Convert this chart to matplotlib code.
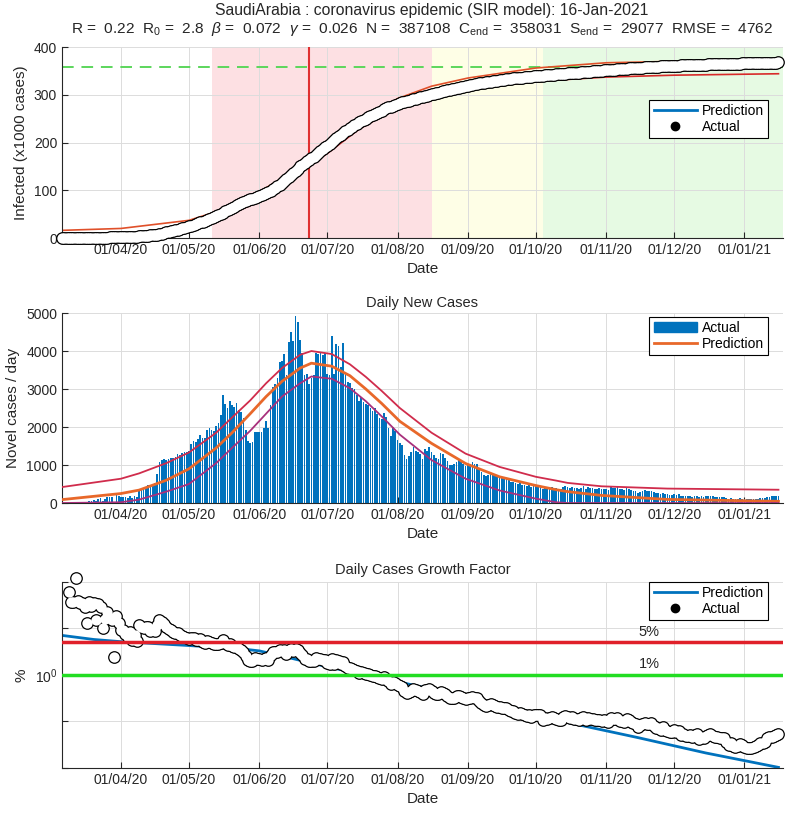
import numpy as np
import pandas as pd
import matplotlib
matplotlib.use('Agg')
import matplotlib.pyplot as plt
import matplotlib.dates as mdates
from matplotlib.lines import Line2D
from matplotlib.patches import Patch

plt.rcParams['font.family'] = ['Liberation Sans', 'DejaVu Sans']
plt.rcParams['font.size'] = 10
plt.rcParams['mathtext.fontset'] = 'custom'
plt.rcParams['mathtext.rm'] = 'Liberation Sans'
plt.rcParams['mathtext.it'] = 'Liberation Sans:italic'

# ---------------- datos ----------------
start = '2020-03-06'
n0 = 5  # casos antes del inicio

new_mar = [0, 0, 0, 3, 3, 4, 18, 13, 16, 22, 24, 14, 45, 50, 76, 44, 111, 130, 58, 100,
           165, 150, 160, 30, 230, 190]
new_apr = [157, 165, 154, 140, 191, 138, 190, 150, 355, 364, 382, 429, 472, 435, 493,
           518, 762, 1088, 1122, 1147, 1141, 1158, 1172, 1197, 1223, 1289, 1266, 1325,
           1351, 1344]
new_may = [1362, 1552, 1645, 1595, 1687, 1793, 1701, 1701, 1912, 1966, 1911, 1905, 2039,
           2100, 2307, 2840, 2593, 2509, 2691, 2591, 2532, 2642, 2442, 2399, 2235, 1931,
           1644, 1581, 1618, 1877, 1881]
new_jun = [1880, 1870, 1975, 2170, 1975, 2590, 3045, 3120, 3290, 3720, 3730, 3920, 3370,
           4230, 4510, 4270, 4920, 4760, 4300, 3940, 3380, 3390, 3140, 3290, 3370, 3940,
           3930, 3940, 3900, 3950]
new_jul = [3400, 3380, 4390, 3400, 4190, 4130, 3580, 4210, 3390, 3180, 3160, 3040, 2990,
           2850, 2690, 2780, 2670, 2610, 2570, 2500, 2430, 2500, 2330, 2240, 2200, 2380,
           2260, 1970, 1760, 1990, 1900]
new_aug = [1660, 1590, 1530, 1260, 1160, 1240, 1330, 1470, 1370, 1330, 1290, 1160, 1420,
           1380, 1470, 1330, 1260, 1190, 1160, 1310, 1280, 1190, 1100, 1000, 990, 1020,
           1080, 1130, 1080, 1030, 970]
new_sep = [1030, 1020, 1070, 1030, 1040, 870, 810, 750, 710, 740, 760, 740, 700, 680, 660,
           650, 640, 640, 600, 560, 560, 520, 490, 520, 480, 470, 450, 470, 430, 460]
new_oct = [462, 468, 459, 374, 404, 388, 399, 419, 404, 383, 373, 367, 425, 442, 421, 406,
           423, 399, 391, 381, 406, 437, 378, 411, 400, 395, 373, 380, 383, 362, 375]
new_nov = [360, 340, 417, 406, 399, 419, 359, 364, 337, 404, 381, 348, 328, 311, 274, 299,
           311, 333, 319, 322, 327, 284, 265, 259, 236, 273, 240, 227, 212, 216]
new_dec = [232, 214, 228, 187, 190, 180, 172, 181, 169, 188, 192, 156, 172, 164, 178, 183,
           191, 175, 166, 165, 162, 163, 157, 130, 112, 128, 108, 103, 108, 122, 113]
new_jan = [105, 100, 98, 96, 104, 108, 114, 124, 128, 132, 158, 170, 174, 176, 188, 196]

daily = np.array(new_mar + new_apr + new_may + new_jun + new_jul + new_aug + new_sep +
                 new_oct + new_nov + new_dec + new_jan, dtype=float)
dates = pd.date_range(start, periods=len(daily), freq='D')
cum = n0 + np.cumsum(daily)
prev = np.concatenate([[n0], cum[:-1]])
growth = daily / prev * 100
growth[growth <= 0] = np.nan

# prediccion acumulada (x1000)
top_dates = pd.to_datetime(['2020-03-06', '2020-04-01', '2020-05-01', '2020-05-11',
                            '2020-05-20', '2020-06-01', '2020-06-10', '2020-06-15',
                            '2020-06-23', '2020-07-01', '2020-07-15', '2020-08-01',
                            '2020-08-16', '2020-09-01', '2020-10-01', '2020-11-01',
                            '2020-12-01', '2021-01-16'])
top_upper = [16, 20, 37, 52, 62, 97, 122, 142, 167, 192, 240, 292, 318, 335, 356, 367, 370, 374]
top_lower = [0, 1, 16, 32, 52, 76, 100, 122, 153, 177, 228, 273, 293, 311, 328, 337, 341, 344]

# prediccion casos diarios
mid_dates = pd.to_datetime(['2020-03-06', '2020-04-01', '2020-04-09', '2020-04-21',
                            '2020-05-01', '2020-05-13', '2020-05-20', '2020-05-28',
                            '2020-06-04', '2020-06-11', '2020-06-19', '2020-06-24',
                            '2020-07-03', '2020-07-11', '2020-07-18', '2020-07-25',
                            '2020-08-02', '2020-08-16', '2020-08-31', '2020-09-15',
                            '2020-10-01', '2020-10-10', '2020-10-15', '2020-10-30',
                            '2020-11-28', '2021-01-16'])
mid_center = [90, 250, 340, 600, 900, 1450, 1850, 2350, 2800, 3200, 3550, 3680, 3600, 3350,
              3000, 2620, 2150, 1570, 1040, 690, 460, 350, 300, 200, 95, 45]
mid_upper = [420, 640, 780, 1050, 1330, 1850, 2250, 2700, 3150, 3550, 3900, 4000, 3920, 3650,
             3320, 2950, 2500, 1850, 1300, 950, 690, 590, 530, 440, 380, 350]
mid_lower = [0, 20, 90, 300, 500, 1050, 1450, 1900, 2350, 2800, 3150, 3330, 3270, 3020,
             2680, 2280, 1800, 1130, 640, 330, 115, 20, 0, 0, 0, 0]

# prediccion factor de crecimiento (%)
gr_dates = pd.to_datetime(['2020-03-06', '2020-03-20', '2020-04-01', '2020-05-01',
                           '2020-05-25', '2020-06-01', '2020-06-15', '2020-07-01',
                           '2020-08-01', '2020-09-01', '2020-10-01', '2020-10-15',
                           '2020-11-15', '2020-12-15', '2021-01-16'])
gr_pred = [7.1, 5.8, 5.2, 4.3, 3.6, 3.3, 2.3, 1.5, 0.72, 0.33, 0.15, 0.095, 0.045, 0.021, 0.0103]

fase_rojo = ('2020-05-11', '2020-08-16')
fase_amarillo = ('2020-08-16', '2020-10-04')
fase_verde = ('2020-10-04', '2021-01-18')
dia_pico = '2020-06-23'
C_end = 358.031

xlim = (pd.Timestamp('2020-03-06'), pd.Timestamp('2021-01-18'))
gris = (0.15, 0.15, 0.15)


def estilo(ax):
    for s in ['top', 'right']:
        ax.spines[s].set_visible(False)
    for s in ['left', 'bottom']:
        ax.spines[s].set_color(gris)
        ax.spines[s].set_linewidth(0.8)
    ax.tick_params(direction='in', length=4, colors=gris, labelsize=10)
    ax.grid(True, color='#dcdcdc', linewidth=0.7)
    ax.set_axisbelow(True)
    ax.set_xlim(xlim)
    ax.xaxis.set_major_locator(mdates.MonthLocator(bymonth=[1, 4, 5, 6, 7, 8, 9, 10, 11, 12]))
    ax.xaxis.set_major_formatter(mdates.DateFormatter('%d/%m/%y'))
    ax.set_xlabel('Date', color=gris, fontsize=11)


def tubo(ax, x, y, z=3):
    # circulos blancos con borde negro (estilo matlab, se funden en un tubo)
    ax.plot(x, y, 'o', ms=9.2, mfc='k', mec='none', zorder=z, clip_on=False)
    ax.plot(x, y, 'o', ms=7.4, mfc='white', mec='none', zorder=z + 0.01, clip_on=False)


def leyenda(ax, handles, labels, anchor):
    leg = ax.legend(handles, labels, loc='upper right', bbox_to_anchor=anchor,
                    borderaxespad=0, fancybox=False, framealpha=1, edgecolor='k',
                    fontsize=10, handlelength=3.1, handletextpad=0.35, borderpad=0.3,
                    labelspacing=0.15)
    leg.get_frame().set_linewidth(0.8)
    leg.set_zorder(10)
    return leg


fig = plt.figure(figsize=(8, 8.19), dpi=100)
ax1 = fig.add_axes([0.0775, 0.7094, 0.90125, 0.2332])
ax2 = fig.add_axes([0.0775, 0.3858, 0.90125, 0.2320])
ax3 = fig.add_axes([0.0775, 0.0623, 0.90125, 0.2271])

# ---------------- acumulados ----------------
estilo(ax1)
ax1.axvspan(pd.Timestamp(fase_rojo[0]), pd.Timestamp(fase_rojo[1]), color='#fde0e3', zorder=0.2, lw=0)
ax1.axvspan(pd.Timestamp(fase_amarillo[0]), pd.Timestamp(fase_amarillo[1]), color='#fefee6', zorder=0.2, lw=0)
ax1.axvspan(pd.Timestamp(fase_verde[0]), pd.Timestamp(fase_verde[1]), color='#e6fae3', zorder=0.2, lw=0)
ax1.axhline(C_end, color='#5cd65c', ls=(0, (6, 4)), lw=1.4, zorder=1)
ax1.axvline(pd.Timestamp(dia_pico), color='#e03030', lw=1.5, zorder=1)
ax1.plot(top_dates, top_upper, color='#e0502a', lw=1.2, zorder=2)
ax1.plot(top_dates, top_lower, color='#d82a2a', lw=1.2, zorder=2)
tubo(ax1, dates, cum / 1000)
ax1.set_ylim(0, 400)
ax1.set_yticks([0, 100, 200, 300, 400])
ax1.set_ylabel('Infected (x1000 cases)', color=gris, fontsize=11)
h1 = [Line2D([], [], color='#0072BD', lw=2), Line2D([], [], ls='none', marker='o', color='k', ms=6)]
leyenda(ax1, h1, ['Prediction', 'Actual'], (0.979, 0.7225))

fig.text(0.539, 1 - 15 / 819, 'SaudiArabia : coronavirus epidemic (SIR model): 16-Jan-2021',
         ha='center', va='baseline', fontsize=11.3, color=gris)
fig.text(0.527, 1 - 33 / 819,
         r'R =  0.22  R$_0$ =  2.8  $\beta$ =  0.072  $\gamma$ =  0.026  N =  387108  '
         r'C$_{\mathrm{end}}$ =  358031  S$_{\mathrm{end}}$ =  29077  RMSE =  4762',
         ha='center', va='baseline', fontsize=11.1, color=gris)

# ---------------- casos diarios ----------------
estilo(ax2)
ax2.bar(dates, daily, width=0.75, color='#0072BD', lw=0, zorder=2)
ax2.plot(mid_dates, mid_upper, color='#d02c4c', lw=1.3, zorder=3)
ax2.plot(mid_dates, mid_center, color='#e8682a', lw=2, zorder=3)
ax2.plot(mid_dates, mid_lower, color='#a8307c', lw=1.3, zorder=3)
ax2.set_ylim(0, 5000)
ax2.set_yticks([0, 1000, 2000, 3000, 4000, 5000])
ax2.set_ylabel('Novel cases / day', color=gris, fontsize=11)
ax2.set_title('Daily New Cases', fontsize=10.5, color=gris, pad=4)
h2 = [Patch(color='#0072BD'), Line2D([], [], color='#e8682a', lw=2)]
leyenda(ax2, h2, ['Actual', 'Prediction'], (0.979, 0.979))

# ---------------- factor de crecimiento ----------------
estilo(ax3)
ax3.set_yscale('log')
ax3.set_ylim(1e-2, 1e2)
ax3.set_yticks([1e-2, 1e-1, 1, 10, 100])
ax3.set_yticklabels(['', '', r'$10^0$', '', ''])
ax3.yaxis.set_minor_locator(matplotlib.ticker.NullLocator())
ax3.plot(gr_dates, gr_pred, color='#0072BD', lw=2, zorder=2)
tubo(ax3, dates, growth)
ax3.axhline(5, color='#e0202a', lw=2.5, zorder=4)
ax3.axhline(1, color='#22dd22', lw=2.5, zorder=4)
ax3.text(pd.Timestamp('2020-11-20'), 5.8, '5%', ha='center', va='bottom', fontsize=10.5, color=gris)
ax3.text(pd.Timestamp('2020-11-20'), 1.23, '1%', ha='center', va='bottom', fontsize=10.5, color=gris)
ax3.set_ylabel('%', color=gris, fontsize=11)
ax3.set_title('Daily Cases Growth Factor', fontsize=10.5, color=gris, pad=6)
h3 = [Line2D([], [], color='#0072BD', lw=2), Line2D([], [], ls='none', marker='o', color='k', ms=6)]
leyenda(ax3, h3, ['Prediction', 'Actual'], (0.979, 1.0))

fig.savefig('out.png', dpi=100)
